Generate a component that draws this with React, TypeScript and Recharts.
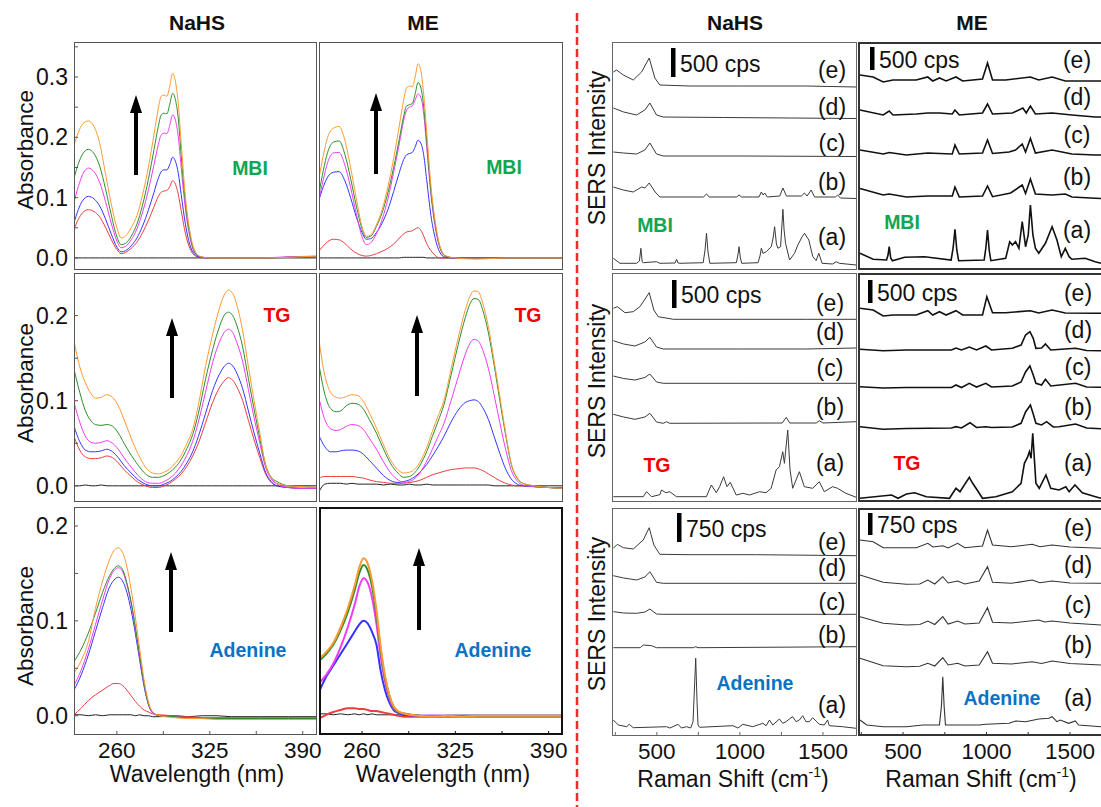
import React from "react";
import { Line, LineChart, XAxis, YAxis } from "recharts";

const FONT = '"Liberation Sans", Arial, Helvetica, sans-serif';
const TEXT = "#111";

const C_BLACK = "#222222";
const C_RED = "#f03c3c";
const C_BLUE = "#3434ff";
const C_MAGENTA = "#f03cf0";
const C_GREEN = "#2c8f2c";
const C_ORANGE = "#ff9933";

const GREEN_LABEL = "#12a650";
const RED_LABEL = "#f00000";
const BLUE_LABEL = "#0a72c4";

type Pt = [number, number];
type Curves = { k: number[]; r: number[]; b: number[]; m: number[]; g: number[]; o: number[] };

// ---------- UV-vis absorbance (nm grids + series) ----------
const MBI_NM = [230, 233, 236, 240, 244, 248, 252, 256, 260, 263, 266, 270, 274, 278, 282, 286, 289, 291, 293, 295, 297, 299, 301, 303, 305, 308, 311, 314, 318, 325, 340, 360, 380, 400];
const TG_NM = [230, 234, 238, 242, 245, 249, 253, 257, 261, 265, 270, 275, 280, 285, 289, 293, 297, 301, 305, 309, 313, 317, 322, 327, 332, 335, 338, 341, 344, 348, 352, 356, 360, 364, 368, 372, 380, 390, 400];
const ADE_NM = [230, 235, 240, 245, 250, 255, 258, 261, 264, 267, 270, 273, 276, 279, 282, 285, 290, 300, 310, 320, 330, 340, 360, 380, 400];

const NAHS_MBI: Curves = {
  o: [0.187, 0.208, 0.222, 0.227, 0.218, 0.19, 0.14, 0.09, 0.05, 0.033, 0.036, 0.05, 0.07, 0.105, 0.15, 0.205, 0.248, 0.268, 0.27, 0.268, 0.285, 0.306, 0.292, 0.255, 0.19, 0.1, 0.045, 0.015, 0.003, 0, 0, 0, 0.001, 0.003],
  g: [0.132, 0.156, 0.172, 0.18, 0.173, 0.152, 0.115, 0.072, 0.035, 0.022, 0.024, 0.036, 0.056, 0.088, 0.13, 0.18, 0.218, 0.237, 0.24, 0.239, 0.255, 0.273, 0.262, 0.23, 0.17, 0.09, 0.04, 0.012, 0.002, 0, 0, 0, 0.001, 0.002],
  m: [0.093, 0.118, 0.138, 0.149, 0.143, 0.125, 0.094, 0.058, 0.028, 0.017, 0.019, 0.03, 0.048, 0.076, 0.112, 0.155, 0.188, 0.204, 0.207, 0.206, 0.22, 0.237, 0.228, 0.2, 0.15, 0.08, 0.035, 0.01, 0.002, 0, 0, 0, 0.002, 0.003],
  b: [0.058, 0.08, 0.095, 0.102, 0.098, 0.086, 0.065, 0.04, 0.018, 0.01, 0.012, 0.02, 0.033, 0.053, 0.079, 0.109, 0.132, 0.143, 0.146, 0.146, 0.155, 0.167, 0.16, 0.14, 0.105, 0.055, 0.022, 0.007, 0.001, 0, 0, 0, 0.001, 0.002],
  r: [0.047, 0.064, 0.075, 0.08, 0.077, 0.068, 0.051, 0.031, 0.014, 0.007, 0.009, 0.016, 0.026, 0.042, 0.062, 0.085, 0.102, 0.109, 0.111, 0.112, 0.118, 0.128, 0.122, 0.105, 0.078, 0.04, 0.016, 0.005, 0.001, 0, 0, 0, 0.001, 0.001],
  k: [0, 0, 0, 0, 0, 0, 0, 0, 0, 0, 0, 0, 0, 0, 0, 0, 0, 0, 0, 0, 0, 0, 0, 0, 0, 0, 0, 0, 0, 0, 0, 0, 0, 0],
};

const ME_MBI: Curves = {
  o: [0.132, 0.17, 0.2, 0.215, 0.218, 0.195, 0.15, 0.098, 0.052, 0.036, 0.038, 0.055, 0.08, 0.118, 0.165, 0.22, 0.262, 0.282, 0.285, 0.284, 0.3, 0.322, 0.31, 0.27, 0.21, 0.12, 0.06, 0.022, 0.004, 0, -0.002, 0, 0, 0],
  g: [0.107, 0.145, 0.175, 0.192, 0.194, 0.172, 0.132, 0.086, 0.048, 0.034, 0.036, 0.052, 0.075, 0.108, 0.15, 0.198, 0.235, 0.252, 0.254, 0.256, 0.272, 0.291, 0.282, 0.25, 0.195, 0.11, 0.055, 0.02, 0.003, 0, 0, 0, 0, 0],
  m: [0.097, 0.13, 0.158, 0.174, 0.175, 0.154, 0.117, 0.073, 0.035, 0.022, 0.025, 0.04, 0.064, 0.098, 0.142, 0.19, 0.228, 0.245, 0.25, 0.252, 0.262, 0.272, 0.266, 0.238, 0.185, 0.105, 0.05, 0.018, 0.003, 0, 0, 0, 0, 0],
  b: [0.096, 0.118, 0.134, 0.142, 0.143, 0.128, 0.1, 0.068, 0.042, 0.031, 0.032, 0.042, 0.058, 0.08, 0.11, 0.142, 0.163, 0.171, 0.173, 0.175, 0.184, 0.195, 0.19, 0.17, 0.13, 0.07, 0.032, 0.01, 0.001, 0, 0, 0, 0, 0],
  r: [0.012, 0.02, 0.027, 0.031, 0.03, 0.024, 0.015, 0.008, 0.004, 0.003, 0.004, 0.007, 0.011, 0.016, 0.023, 0.033, 0.04, 0.043, 0.044, 0.045, 0.048, 0.05, 0.046, 0.036, 0.024, 0.012, 0.004, 0, 0, 0, 0, 0, 0, 0],
  k: [0, 0, 0, 0, 0, 0, 0, 0, 0, 0, 0, 0, 0, 0, 0, 0, 0.001, 0.001, 0.001, 0.001, 0.001, 0.001, 0.001, 0.001, 0, 0, 0, 0, 0, 0, 0, 0, 0, 0],
};

const NAHS_TG: Curves = {
  o: [0.17, 0.14, 0.121, 0.108, 0.103, 0.104, 0.107, 0.104, 0.094, 0.078, 0.056, 0.037, 0.022, 0.015, 0.014, 0.016, 0.02, 0.027, 0.036, 0.05, 0.066, 0.095, 0.14, 0.178, 0.21, 0.224, 0.23, 0.226, 0.212, 0.182, 0.14, 0.1, 0.062, 0.025, 0.01, 0.003, 0, -0.001, -0.002],
  g: [0.137, 0.11, 0.088, 0.076, 0.072, 0.071, 0.072, 0.07, 0.062, 0.05, 0.036, 0.024, 0.014, 0.01, 0.01, 0.012, 0.016, 0.022, 0.031, 0.044, 0.06, 0.085, 0.125, 0.16, 0.188, 0.2, 0.204, 0.2, 0.188, 0.163, 0.126, 0.09, 0.056, 0.025, 0.01, 0.005, 0, -0.001, -0.002],
  m: [0.098, 0.075, 0.058, 0.051, 0.05, 0.051, 0.053, 0.05, 0.043, 0.033, 0.022, 0.012, 0.005, 0.003, 0.003, 0.005, 0.009, 0.015, 0.024, 0.036, 0.052, 0.075, 0.11, 0.145, 0.17, 0.18, 0.184, 0.18, 0.168, 0.146, 0.113, 0.08, 0.05, 0.022, 0.008, 0.002, -0.002, -0.003, -0.003],
  b: [0.07, 0.052, 0.042, 0.04, 0.04, 0.041, 0.043, 0.04, 0.033, 0.024, 0.015, 0.007, 0.002, 0, 0, 0.002, 0.005, 0.01, 0.017, 0.027, 0.04, 0.058, 0.085, 0.112, 0.132, 0.14, 0.144, 0.141, 0.132, 0.114, 0.088, 0.062, 0.038, 0.016, 0.005, 0, -0.002, -0.003, -0.003],
  r: [0.058, 0.042, 0.034, 0.032, 0.032, 0.033, 0.035, 0.033, 0.027, 0.019, 0.011, 0.004, 0, -0.002, -0.002, 0, 0.003, 0.008, 0.014, 0.023, 0.035, 0.05, 0.074, 0.098, 0.116, 0.123, 0.127, 0.124, 0.116, 0.1, 0.077, 0.054, 0.033, 0.014, 0.004, 0, -0.002, -0.003, -0.003],
  k: [0, 0, 0.001, 0, 0, 0.001, 0, 0, 0, 0, 0, 0, 0, 0, 0, 0, 0, 0, 0, 0, 0, 0, 0, 0, 0, 0, 0, 0, 0, 0, 0, 0, 0, 0, 0, 0, 0, 0, 0],
};

const ME_TG: Curves = {
  o: [0.171, 0.13, 0.11, 0.104, 0.103, 0.105, 0.107, 0.106, 0.099, 0.086, 0.068, 0.048, 0.03, 0.019, 0.015, 0.016, 0.02, 0.03, 0.045, 0.064, 0.082, 0.1, 0.137, 0.174, 0.207, 0.222, 0.229, 0.228, 0.215, 0.187, 0.147, 0.105, 0.063, 0.026, 0.01, 0.003, 0, -0.002, -0.003],
  g: [0.142, 0.108, 0.091, 0.087, 0.088, 0.094, 0.097, 0.096, 0.09, 0.078, 0.062, 0.043, 0.026, 0.015, 0.01, 0.011, 0.016, 0.026, 0.04, 0.058, 0.076, 0.095, 0.13, 0.166, 0.198, 0.213, 0.22, 0.219, 0.207, 0.18, 0.142, 0.1, 0.06, 0.025, 0.009, 0.003, 0, -0.002, -0.003],
  m: [0.103, 0.078, 0.067, 0.065, 0.066, 0.07, 0.072, 0.071, 0.066, 0.056, 0.043, 0.028, 0.015, 0.007, 0.004, 0.005, 0.009, 0.017, 0.029, 0.043, 0.058, 0.073, 0.1, 0.128, 0.155, 0.167, 0.172, 0.17, 0.16, 0.138, 0.107, 0.074, 0.043, 0.018, 0.006, 0.001, -0.001, -0.002, -0.003],
  b: [0.059, 0.046, 0.04, 0.04, 0.041, 0.042, 0.042, 0.041, 0.037, 0.03, 0.021, 0.012, 0.006, 0.004, 0.005, 0.007, 0.011, 0.017, 0.025, 0.035, 0.046, 0.058, 0.075, 0.089, 0.098, 0.1, 0.101, 0.099, 0.092, 0.078, 0.058, 0.038, 0.02, 0.008, 0.002, 0, -0.001, -0.002, -0.003],
  r: [0.009, 0.011, 0.011, 0.011, 0.011, 0.011, 0.011, 0.01, 0.009, 0.007, 0.005, 0.004, 0.003, 0.003, 0.003, 0.004, 0.005, 0.007, 0.01, 0.013, 0.015, 0.017, 0.019, 0.02, 0.021, 0.021, 0.021, 0.02, 0.018, 0.014, 0.01, 0.006, 0.003, 0.001, 0, 0, -0.001, -0.002, -0.002],
  k: [-0.007, 0.002, 0.003, 0.003, 0.003, 0.002, 0.003, 0.002, 0.002, 0.002, 0.002, 0.001, 0.002, 0.001, 0.001, 0.002, 0.001, 0.001, 0.002, 0.001, 0.001, 0.001, 0.001, 0.001, 0.001, 0.001, 0.001, 0.001, 0.001, 0.001, 0, 0, 0, 0, 0, 0, 0, 0, 0],
};

const NAHS_ADE: Curves = {
  o: [0.045, 0.058, 0.078, 0.113, 0.142, 0.165, 0.174, 0.177, 0.172, 0.157, 0.133, 0.103, 0.07, 0.038, 0.015, 0.004, 0, -0.002, -0.003, -0.003, -0.004, -0.004, -0.004, -0.004, -0.004],
  g: [0.057, 0.07, 0.087, 0.108, 0.13, 0.148, 0.155, 0.158, 0.154, 0.14, 0.12, 0.093, 0.063, 0.034, 0.013, 0.004, 0, -0.001, -0.002, -0.003, -0.003, -0.003, -0.003, -0.003, -0.003],
  m: [0.032, 0.048, 0.07, 0.096, 0.122, 0.145, 0.153, 0.156, 0.152, 0.138, 0.118, 0.091, 0.062, 0.033, 0.013, 0.003, 0, -0.001, -0.002, -0.002, -0.002, -0.002, -0.002, -0.002, -0.002],
  b: [0.027, 0.043, 0.064, 0.089, 0.114, 0.136, 0.143, 0.146, 0.142, 0.13, 0.111, 0.086, 0.058, 0.031, 0.012, 0.003, 0, -0.001, -0.002, -0.002, -0.002, -0.002, -0.002, -0.002, -0.002],
  r: [0.001, 0.008, 0.016, 0.022, 0.027, 0.032, 0.034, 0.034, 0.032, 0.027, 0.021, 0.015, 0.01, 0.006, 0.004, 0.002, 0.001, 0, -0.001, -0.002, -0.003, -0.003, -0.003, -0.003, -0.003],
  k: [0.001, 0.001, 0, 0.001, 0, 0.001, 0.001, 0.001, 0.001, 0.001, 0.001, 0, 0.001, 0, 0, -0.001, -0.001, 0, -0.001, 0, 0, -0.001, -0.001, -0.001, -0.001],
};

const ME_ADE: Curves = {
  o: [0.06, 0.067, 0.077, 0.093, 0.113, 0.138, 0.156, 0.166, 0.16, 0.142, 0.112, 0.072, 0.042, 0.022, 0.01, 0.005, 0.002, 0, -0.001, 0, -0.001, 0, 0, 0, 0],
  g: [0.058, 0.065, 0.075, 0.09, 0.109, 0.133, 0.15, 0.159, 0.153, 0.136, 0.107, 0.069, 0.04, 0.021, 0.009, 0.004, 0.002, 0, -0.001, 0, 0, 0, 0, 0, 0],
  m: [0.034, 0.043, 0.055, 0.072, 0.093, 0.118, 0.136, 0.145, 0.14, 0.124, 0.097, 0.062, 0.036, 0.019, 0.008, 0.004, 0.002, 0, 0, 0, 0, 0, 0, 0, 0],
  b: [0.025, 0.041, 0.053, 0.065, 0.077, 0.089, 0.096, 0.1, 0.097, 0.088, 0.075, 0.047, 0.027, 0.014, 0.006, 0.003, 0.001, 0, 0, 0, 0, 0, 0, 0, 0],
  r: [-0.003, 0.001, 0.004, 0.006, 0.008, 0.008, 0.007, 0.007, 0.006, 0.005, 0.005, 0.004, 0.003, 0.002, 0.001, 0, -0.001, -0.001, -0.001, -0.001, -0.001, -0.001, -0.001, -0.001, -0.001],
  k: [0.002, 0.002, 0.001, 0.002, 0.001, 0.002, 0.001, 0.002, 0.001, 0.002, 0.001, 0.001, 0.001, 0.001, 0.001, 0.001, 0, 0, 0, 0, 0, 0, 0, 0, 0],
};

const UV_X_TICKS = [260, 292.5, 325, 357.5, 390];
const UV_X_LABELS = [260, 325, 390];
const UV_Y_TICKS_MBI = [0, 0.05, 0.1, 0.15, 0.2, 0.25, 0.3, 0.35];
const UV_Y_TICKS_LOW = [0, 0.05, 0.1, 0.15, 0.2];

// ---------- SERS spectra: [Raman shift, height], traces a..e ----------
const SERS_NAHS_MBI: Pt[][] = [
  [[238, 11.7], [278, 6.7], [378, 6.7], [395, 9], [404, 21.7], [412, 8], [418, 7.3], [498, 8.3], [518, 6.7], [610, 7], [619, 10.7], [628, 7], [638, 6.7], [779, 7.3], [790, 20], [799, 36.7], [808, 18], [819, 6.7], [979, 7.3], [989, 16], [995, 23.3], [1003, 12], [1011, 6.7], [1109, 7.3], [1121, 14], [1129, 21.7], [1139, 16.7], [1159, 18.3], [1189, 23.3], [1200, 32], [1209, 43.3], [1220, 26], [1229, 21.7], [1245, 23.3], [1252, 42], [1259, 60.7], [1266, 40], [1275, 26.7], [1299, 10], [1329, 16.7], [1349, 25], [1375, 33.3], [1389, 36.7], [1415, 30], [1439, 13.3], [1459, 9.3], [1475, 16.7], [1495, 6.7], [1559, 6], [1579, 8.3], [1599, 6.7], [1700, 5]],
  [[238, 83], [298, 80], [358, 78], [408, 83], [428, 82], [454, 87], [490, 78], [518, 73], [780, 73], [799, 76], [815, 73], [980, 73], [995, 75], [1010, 73], [1115, 73], [1129, 78], [1140, 75], [1149, 77], [1165, 73], [1240, 74], [1259, 82], [1280, 74], [1370, 74], [1389, 77], [1405, 74], [1429, 80], [1450, 73], [1575, 73], [1589, 75], [1605, 72], [1700, 71.5]],
  [[238, 118], [300, 117], [378, 116], [428, 120], [458, 127], [498, 116], [538, 114], [1000, 114], [1700, 113.5]],
  [[238, 162], [300, 158], [378, 155], [428, 160], [458, 167], [498, 155], [538, 153], [900, 152.5], [1300, 152], [1700, 151.5]],
  [[238, 198], [258, 200], [298, 195], [358, 190], [408, 198], [454, 212], [488, 192], [518, 185], [700, 184], [1000, 184], [1400, 184], [1700, 183]],
];

const SERS_ME_MBI: Pt[][] = [
  [[242, 16.7], [321, 10.7], [401, 10], [410, 15], [417, 23.3], [426, 12], [436, 9.3], [510, 12.7], [629, 13.3], [788, 10], [800, 22], [811, 40.7], [822, 20], [833, 9.3], [986, 10], [996, 22], [1006, 40], [1016, 20], [1026, 9.3], [1115, 11.7], [1139, 28.3], [1155, 25], [1174, 28.3], [1194, 21.7], [1214, 48.3], [1234, 23.3], [1250, 35], [1263, 65], [1278, 35], [1293, 21.7], [1313, 16.7], [1353, 26.7], [1393, 43.3], [1422, 30], [1448, 13.3], [1472, 21.7], [1495, 13.3], [1512, 10.7], [1591, 11.7], [1651, 8.3], [1686, 6.7]],
  [[242, 81.5], [381, 75], [417, 76], [520, 73], [648, 74], [795, 74], [811, 83], [837, 73], [976, 74], [1006, 84], [1036, 73.3], [1145, 77], [1214, 85], [1234, 76.5], [1263, 91], [1293, 76], [1393, 75], [1472, 76], [1512, 73], [1651, 71.7], [1686, 71.5]],
  [[242, 120], [381, 116], [417, 117.5], [520, 115], [648, 117], [718, 116.5], [795, 116], [811, 125], [837, 116], [976, 117], [1006, 130], [1036, 116.5], [1135, 118], [1174, 120], [1214, 126], [1234, 118], [1263, 131.5], [1293, 117], [1393, 120], [1512, 116], [1651, 115], [1686, 115]],
  [[242, 160], [381, 155], [417, 159], [440, 155], [579, 156], [648, 157], [718, 157], [795, 156], [811, 160], [837, 155], [976, 157], [1006, 166], [1036, 156], [1155, 157], [1218, 162], [1238, 157], [1263, 164], [1293, 156], [1393, 157], [1512, 155], [1651, 153], [1686, 153]],
  [[242, 195], [321, 193], [381, 188], [440, 190], [579, 190], [648, 193], [678, 189], [718, 192], [758, 189], [817, 193], [857, 189], [976, 191], [1006, 207], [1036, 190], [1115, 190], [1263, 193], [1313, 190], [1393, 193], [1472, 189], [1651, 189], [1686, 189]],
];

const SERS_NAHS_TG: Pt[][] = [
  [[238, 5.3], [418, 5.3], [438, 10.3], [468, 5.3], [518, 7.3], [528, 12], [554, 9.3], [578, 10.3], [618, 5.3], [798, 5.3], [828, 17], [858, 9.3], [878, 15.3], [902, 25.3], [922, 15.3], [942, 19.7], [978, 7], [1018, 8.7], [1058, 7], [1118, 10.3], [1158, 9.3], [1188, 13.7], [1218, 32], [1238, 35.3], [1258, 50.3], [1268, 38.7], [1288, 72], [1302, 32], [1318, 13.7], [1358, 30.3], [1388, 15.3], [1438, 13.7], [1478, 20.3], [1508, 10.3], [1558, 15.3], [1588, 13.7], [1638, 8.7], [1700, 4.7]],
  [[238, 87.7], [300, 85], [368, 82.7], [428, 85], [458, 88.7], [498, 80], [538, 78.7], [558, 80.3], [578, 78.7], [1255, 79], [1279, 84.7], [1300, 79], [1460, 79], [1478, 81.3], [1500, 79], [1700, 80.3]],
  [[238, 126], [300, 123.5], [368, 122], [428, 124.5], [458, 128], [498, 120], [538, 118.7], [1000, 118.7], [1700, 118.7]],
  [[238, 161.3], [300, 158], [368, 156], [428, 160], [458, 164.7], [498, 155], [538, 153], [1000, 153], [1400, 153], [1700, 154]],
  [[238, 193.7], [262, 195.3], [308, 189.3], [358, 190.3], [398, 195.3], [454, 209.3], [482, 192], [508, 185.3], [600, 182.7], [1000, 182.7], [1400, 182.7], [1700, 182.7]],
];

const SERS_ME_TG: Pt[][] = [
  [[242, 3.7], [431, 7], [470, 3.7], [520, 8], [570, 9.3], [639, 5.3], [778, 3.7], [817, 13.7], [841, 10.3], [897, 24.7], [917, 18.7], [937, 13.7], [976, 3.7], [1056, 5.3], [1155, 10.3], [1207, 18.7], [1227, 38.7], [1247, 45.3], [1257, 50.3], [1267, 43.7], [1277, 68.7], [1296, 18.7], [1316, 13.7], [1356, 27], [1385, 13.7], [1435, 12], [1475, 15.3], [1495, 10.3], [1530, 17], [1574, 9.3], [1653, 5.3], [1686, 3.7]],
  [[242, 75.3], [381, 72.7], [520, 73.5], [790, 74], [817, 75.3], [850, 74], [901, 79.3], [940, 74.5], [996, 75.3], [1030, 74.5], [1155, 75], [1207, 78.7], [1234, 90], [1263, 97], [1280, 88], [1296, 78.7], [1330, 77], [1360, 80.3], [1400, 75], [1435, 75.3], [1534, 78], [1600, 74], [1686, 73.3]],
  [[242, 115.3], [381, 114], [520, 114.5], [790, 114.5], [817, 117], [850, 114.5], [897, 118.7], [940, 115], [996, 118.7], [1030, 115], [1155, 116], [1207, 120], [1234, 130], [1260, 136], [1280, 127], [1296, 118.7], [1330, 117], [1353, 122.7], [1385, 116], [1534, 118.7], [1600, 115], [1686, 114.7]],
  [[242, 152.7], [381, 151.3], [520, 152], [790, 152], [817, 154], [850, 152], [897, 155], [940, 152], [996, 156], [1030, 152], [1155, 153.7], [1207, 157], [1234, 167], [1260, 170.3], [1280, 163.7], [1296, 153.7], [1330, 154], [1353, 158], [1385, 152], [1534, 153.7], [1600, 151.5], [1686, 151.3]],
  [[242, 193.7], [321, 192], [381, 186], [440, 187], [579, 187], [648, 191.3], [678, 187], [718, 190.3], [758, 187], [817, 191.3], [857, 187], [976, 187], [1002, 205.3], [1036, 189.3], [1115, 189.3], [1263, 191.3], [1313, 189], [1393, 192], [1472, 189], [1651, 188.7], [1686, 188.7]],
];

const SERS_NAHS_ADE: Pt[][] = [
  [[238, 16], [268, 11], [318, 9.3], [334, 11.7], [358, 8.3], [558, 9.3], [578, 8], [628, 11.7], [648, 8], [678, 9.3], [704, 8], [718, 14.3], [728, 54.3], [734, 77.7], [742, 34.3], [748, 11], [758, 8.7], [958, 10.3], [988, 8], [1018, 11.7], [1078, 9.3], [1138, 12.7], [1158, 10.3], [1178, 16], [1198, 11], [1238, 17], [1258, 12.7], [1278, 14.3], [1298, 17], [1318, 19.3], [1338, 14.3], [1358, 16], [1378, 20.3], [1398, 14.3], [1418, 14.3], [1438, 18.3], [1478, 11.7], [1508, 11], [1528, 16], [1538, 10.3], [1618, 9.3], [1700, 7.7]],
  [[238, 88.3], [400, 88.3], [418, 91], [468, 90.3], [498, 88.3], [720, 88.3], [734, 89.3], [748, 88.3], [1700, 89.3]],
  [[238, 124.3], [300, 123], [378, 122.7], [428, 124], [458, 127], [498, 122], [538, 121.7], [1000, 121.7], [1700, 121.7]],
  [[238, 160.3], [300, 158], [378, 156], [428, 159], [458, 164.3], [498, 153.7], [538, 152.7], [1000, 152.7], [1700, 152.7]],
  [[238, 187.7], [262, 191.7], [298, 188.3], [358, 187], [418, 196], [454, 208.3], [482, 191], [518, 181.7], [700, 181.3], [1100, 181.3], [1700, 180.3]],
];

const SERS_ME_ADE: Pt[][] = [
  [[242, 16], [282, 11], [381, 9.3], [520, 9.3], [619, 11], [718, 11], [730, 30], [738, 59.3], [746, 30], [754, 11], [956, 11], [996, 11.7], [1135, 12.7], [1175, 15], [1234, 14.3], [1313, 17], [1373, 17.7], [1393, 19.3], [1422, 14.3], [1442, 16], [1492, 12.7], [1532, 15], [1552, 11], [1686, 9.3]],
  [[242, 77.7], [381, 70.3], [520, 69.3], [600, 69.7], [648, 72.7], [690, 70], [738, 78.3], [770, 71], [827, 72.7], [870, 70], [956, 71], [1006, 84.3], [1036, 72.7], [1150, 72], [1274, 74.3], [1330, 72.5], [1393, 75], [1500, 72.5], [1686, 71]],
  [[242, 119.3], [381, 112.7], [520, 111], [600, 111.5], [648, 115], [690, 111.5], [738, 119.3], [770, 112], [827, 115], [870, 112], [956, 113], [1006, 128.3], [1036, 113.7], [1150, 113], [1313, 116], [1350, 114], [1393, 115], [1500, 113], [1686, 111]],
  [[242, 161], [381, 153.7], [520, 151.7], [600, 152], [648, 156], [690, 152], [738, 159.3], [770, 153], [827, 155], [870, 152], [956, 155], [1006, 169.3], [1036, 153.7], [1150, 152.7], [1274, 156], [1320, 153.3], [1393, 155], [1500, 153], [1686, 152.7]],
  [[242, 196], [321, 194.3], [381, 188.3], [580, 188.3], [648, 192.7], [680, 189], [738, 190.3], [770, 188], [827, 192.7], [870, 188.3], [976, 190], [1006, 206], [1036, 191], [1150, 189.3], [1274, 191.7], [1320, 189.3], [1393, 191], [1500, 189], [1686, 187.7]],
];

const SERS_X_TICKS = [250, 500, 750, 1000, 1250, 1500];
const SERS_X_LABELS = [500, 1000, 1500];
const TRACE_TAGS = ["(a)", "(b)", "(c)", "(d)", "(e)"];

const SERIES_ORDER: { key: keyof Curves; color: string }[] = [
  { key: "k", color: C_BLACK },
  { key: "r", color: C_RED },
  { key: "b", color: C_BLUE },
  { key: "m", color: C_MAGENTA },
  { key: "g", color: C_GREEN },
  { key: "o", color: C_ORANGE },
];

function bottomTick(labels: number[], color: string) {
  return function BottomTick(props: any) {
    const { x, y, payload } = props;
    const v = payload.value as number;
    return (
      <g>
        <line x1={x} y1={y} x2={x} y2={y - 4} stroke={color} strokeWidth={1} />
        {labels.includes(v) ? (
          <text x={x} y={y + 15} textAnchor="middle" dominantBaseline="central" fontSize={22.5} fontFamily={FONT} fill={TEXT}>
            {v}
          </text>
        ) : null}
      </g>
    );
  };
}

function leftTick(showLabels: boolean, color: string) {
  return function LeftTick(props: any) {
    const { x, y, payload } = props;
    const v = payload.value as number;
    const major = Math.abs(v * 10 - Math.round(v * 10)) < 1e-6;
    return (
      <g>
        <line x1={x} y1={y} x2={x + 4} y2={y} stroke={color} strokeWidth={1} />
        {showLabels && major ? (
          <text x={x - 6} y={y} textAnchor="end" dominantBaseline="central" fontSize={23} fontFamily={FONT} fill={TEXT}>
            {v.toFixed(1)}
          </text>
        ) : null}
      </g>
    );
  };
}

type UvProps = {
  left: number;
  top: number;
  width: number;
  height: number;
  xs: number[];
  curves: Curves;
  yDomain: [number, number];
  yTicks: number[];
  showYLabels?: boolean;
  showXLabels?: boolean;
  lineWidth?: number;
  frameWidth?: number;
  frameColor?: string;
};

function UvPanel({ left, top, width, height, xs, curves, yDomain, yTicks, showYLabels = false, showXLabels = false, lineWidth = 1, frameWidth = 1, frameColor = "#555" }: UvProps) {
  const padL = showYLabels ? left : 0;
  const padB = showXLabels ? 34 : 0;
  const padR = showXLabels ? 24 : 0;
  const rows = xs.map((x, i) => {
    const row: Record<string, number> = { x };
    SERIES_ORDER.forEach((s) => {
      row[s.key] = curves[s.key][i];
    });
    return row;
  });

  return (
    <div style={{ position: "absolute", left: left - padL, top }}>
      <LineChart width={width + padL + padR} height={height + padB} data={rows} margin={{ top: 0, right: padR, bottom: 0, left: 0 }}>
        <XAxis
          dataKey="x"
          type="number"
          domain={[230, 400]}
          allowDataOverflow
          ticks={UV_X_TICKS}
          interval={0}
          height={padB}
          tickSize={0}
          tickMargin={0}
          axisLine={false}
          tickLine={false}
          tick={bottomTick(showXLabels ? UV_X_LABELS : [], frameColor)}
        />
        <YAxis
          type="number"
          domain={yDomain}
          allowDataOverflow
          ticks={yTicks}
          interval={0}
          width={padL}
          tickSize={0}
          tickMargin={0}
          axisLine={false}
          tickLine={false}
          tick={leftTick(showYLabels, frameColor)}
        />
        {SERIES_ORDER.map((s) => (
          <Line key={s.key} dataKey={s.key} type="monotone" stroke={s.color} strokeWidth={s.key === "k" ? 1 : lineWidth} dot={false} activeDot={false} isAnimationActive={false} />
        ))}
      </LineChart>
      <div
        style={{
          position: "absolute",
          left: padL,
          top: 0,
          width,
          height,
          border: `${frameWidth}px solid ${frameColor}`,
          boxSizing: "border-box",
          pointerEvents: "none",
        }}
      />
    </div>
  );
}

type SersProps = {
  left: number;
  top: number;
  width: number;
  height: number;
  xMax: number;
  traces: Pt[][];
  showXLabels?: boolean;
  lineColor?: string;
  lineWidth?: number;
  frameColor?: string;
  frameWidth?: number;
  openRight?: boolean;
};

function SersPanel({ left, top, width, height, xMax, traces, showXLabels = false, lineColor = "#3a3a3a", lineWidth = 1, frameColor = "#666", frameWidth = 1, openRight = false }: SersProps) {
  const padB = showXLabels ? 34 : 0;
  return (
    <div style={{ position: "absolute", left, top }}>
      <LineChart width={width} height={height + padB} margin={{ top: 0, right: 0, bottom: 0, left: 0 }}>
        <XAxis
          dataKey="x"
          type="number"
          domain={[230, xMax]}
          allowDataOverflow
          ticks={SERS_X_TICKS}
          interval={0}
          height={padB}
          tickSize={0}
          tickMargin={0}
          axisLine={false}
          tickLine={false}
          tick={bottomTick(showXLabels ? SERS_X_LABELS : [], frameColor)}
        />
        <YAxis type="number" domain={[0, height]} allowDataOverflow hide />
        {traces.map((t, i) => (
          <Line
            key={i}
            data={t.map(([x, v]) => ({ x, v }))}
            dataKey="v"
            type="linear"
            stroke={lineColor}
            strokeWidth={lineWidth}
            dot={false}
            activeDot={false}
            isAnimationActive={false}
          />
        ))}
      </LineChart>
      <div
        style={{
          position: "absolute",
          left: 0,
          top: 0,
          width,
          height,
          border: `${frameWidth}px solid ${frameColor}`,
          borderRightWidth: openRight ? 0 : frameWidth,
          boxSizing: "border-box",
          pointerEvents: "none",
        }}
      />
    </div>
  );
}

// annotation placement
const ARROWS = [
  [136, 175, 95],
  [376, 174, 93],
  [172, 398, 318],
  [417, 396, 315],
  [171, 632, 552],
  [419, 630, 548],
];

const COMPOUND_TAGS: [string, number, number, string][] = [
  ["MBI", 250, 168, GREEN_LABEL],
  ["MBI", 504, 167, GREEN_LABEL],
  ["TG", 277, 315, RED_LABEL],
  ["TG", 528, 315, RED_LABEL],
  ["Adenine", 248, 650, BLUE_LABEL],
  ["Adenine", 493, 650, BLUE_LABEL],
  ["MBI", 655, 225, GREEN_LABEL],
  ["MBI", 902, 222, GREEN_LABEL],
  ["TG", 657, 465, RED_LABEL],
  ["TG", 907, 463, RED_LABEL],
  ["Adenine", 755, 683, BLUE_LABEL],
  ["Adenine", 1002, 698, BLUE_LABEL],
];

// x, then y of (a)..(e)
const TAG_SLOTS: [number, number[]][] = [
  [832, [237, 182, 143, 107, 70]],
  [1077, [230, 177, 135, 97, 60]],
  [830, [463, 407, 368, 332, 303]],
  [1078, [463, 407, 367, 330, 293]],
  [832, [705, 635, 602, 568, 542]],
  [1078, [698, 645, 605, 565, 528]],
];

const SCALE_BARS: [number, number, number, string][] = [
  [673, 48, 77, "500 cps"],
  [872, 47, 70, "500 cps"],
  [674, 280, 308, "500 cps"],
  [870, 280, 303, "500 cps"],
  [679, 513, 542, "750 cps"],
  [870, 513, 535, "750 cps"],
];

function Overlay() {
  const t = { fontFamily: FONT, fill: TEXT } as const;
  return (
    <svg width={1101} height={807} style={{ position: "absolute", left: 0, top: 0, pointerEvents: "none" }}>
      <line x1={577} y1={13} x2={577} y2={807} stroke="#ee2b2b" strokeWidth={2.5} strokeDasharray="8 4" />

      {[["NaHS", 197], ["ME", 423], ["NaHS", 735], ["ME", 972]].map(([s, x]) => (
        <text key={`${s}${x}`} x={x as number} y={22} textAnchor="middle" dominantBaseline="central" fontSize={21} fontWeight="bold" {...t}>
          {s}
        </text>
      ))}

      {[150, 383, 626].map((y) => (
        <text key={`ab${y}`} transform={`translate(25,${y}) rotate(-90)`} textAnchor="middle" dominantBaseline="central" fontSize={22.5} {...t}>
          Absorbance
        </text>
      ))}
      {[148, 381, 614].map((y) => (
        <text key={`si${y}`} transform={`translate(597,${y}) rotate(-90)`} textAnchor="middle" dominantBaseline="central" fontSize={23} {...t}>
          SERS Intensity
        </text>
      ))}

      {[197, 443].map((x) => (
        <text key={`wl${x}`} x={x} y={774} textAnchor="middle" dominantBaseline="central" fontSize={23} {...t}>
          Wavelength (nm)
        </text>
      ))}
      {[733, 981].map((x) => (
        <text key={`rs${x}`} x={x} y={779} textAnchor="middle" dominantBaseline="central" fontSize={23} {...t}>
          Raman Shift (cm
          <tspan dy={-7} fontSize={14}>
            -1
          </tspan>
          <tspan dy={7}>)</tspan>
        </text>
      ))}

      {COMPOUND_TAGS.map(([s, x, y, c], i) => (
        <text key={`ct${i}`} x={x} y={y} textAnchor="middle" dominantBaseline="central" fontSize={19.5} fontWeight="bold" fontFamily={FONT} fill={c}>
          {s}
        </text>
      ))}

      {ARROWS.map(([x, yb, tip], i) => (
        <g key={`ar${i}`}>
          <line x1={x} y1={yb} x2={x} y2={tip + 12} stroke="#000" strokeWidth={4} />
          <polygon points={`${x},${tip} ${x - 6},${tip + 18} ${x + 6},${tip + 18}`} fill="#000" />
        </g>
      ))}

      {TAG_SLOTS.map(([x, ys], p) =>
        ys.map((y, i) => (
          <text key={`tg${p}-${i}`} x={x} y={y} textAnchor="middle" dominantBaseline="central" fontSize={23} {...t}>
            {TRACE_TAGS[i]}
          </text>
        )),
      )}

      {SCALE_BARS.map(([x, y0, y1, s], i) => (
        <g key={`sb${i}`}>
          <rect x={x - 2} y={y0} width={4.5} height={y1 - y0} fill="#000" />
          <text x={x + 7} y={(y0 + y1) / 2 + 1} dominantBaseline="central" fontSize={23} {...t}>
            {s}
          </text>
        </g>
      ))}
    </svg>
  );
}

export default function App() {
  return (
    <div style={{ position: "absolute", left: 0, top: 0, width: 1101, height: 807, overflow: "hidden", background: "#fff", fontFamily: FONT }}>
      <UvPanel left={74} top={42} width={243} height={228} xs={MBI_NM} curves={NAHS_MBI} yDomain={[-0.02, 0.358]} yTicks={UV_Y_TICKS_MBI} showYLabels />
      <UvPanel left={319} top={42} width={244} height={228} xs={MBI_NM} curves={ME_MBI} yDomain={[-0.02, 0.358]} yTicks={UV_Y_TICKS_MBI} />
      <UvPanel left={74} top={273} width={243} height={229} xs={TG_NM} curves={NAHS_TG} yDomain={[-0.019, 0.25]} yTicks={UV_Y_TICKS_LOW} showYLabels />
      <UvPanel left={319} top={273} width={244} height={229} xs={TG_NM} curves={ME_TG} yDomain={[-0.019, 0.25]} yTicks={UV_Y_TICKS_LOW} />
      <UvPanel left={74} top={507} width={243} height={228} xs={ADE_NM} curves={NAHS_ADE} yDomain={[-0.0203, 0.22]} yTicks={UV_Y_TICKS_LOW} showYLabels showXLabels />
      <UvPanel left={319} top={507} width={244} height={228} xs={ADE_NM} curves={ME_ADE} yDomain={[-0.0203, 0.22]} yTicks={UV_Y_TICKS_LOW} showXLabels lineWidth={2} frameWidth={2} frameColor="#111" />

      <SersPanel left={612} top={42} width={245} height={228} xMax={1705} traces={SERS_NAHS_MBI} />
      <SersPanel left={858} top={42} width={243} height={228} xMax={1686} traces={SERS_ME_MBI} lineColor="#111" lineWidth={1.6} frameColor="#333" frameWidth={2} openRight />
      <SersPanel left={612} top={273} width={245} height={229} xMax={1705} traces={SERS_NAHS_TG} />
      <SersPanel left={858} top={273} width={243} height={229} xMax={1686} traces={SERS_ME_TG} lineColor="#111" lineWidth={1.6} frameColor="#333" frameWidth={2} openRight />
      <SersPanel left={612} top={508} width={245} height={228} xMax={1705} traces={SERS_NAHS_ADE} showXLabels />
      <SersPanel left={858} top={508} width={243} height={228} xMax={1686} traces={SERS_ME_ADE} showXLabels lineColor="#333" lineWidth={1.1} frameColor="#333" frameWidth={2} openRight />

      <Overlay />
    </div>
  );
}
